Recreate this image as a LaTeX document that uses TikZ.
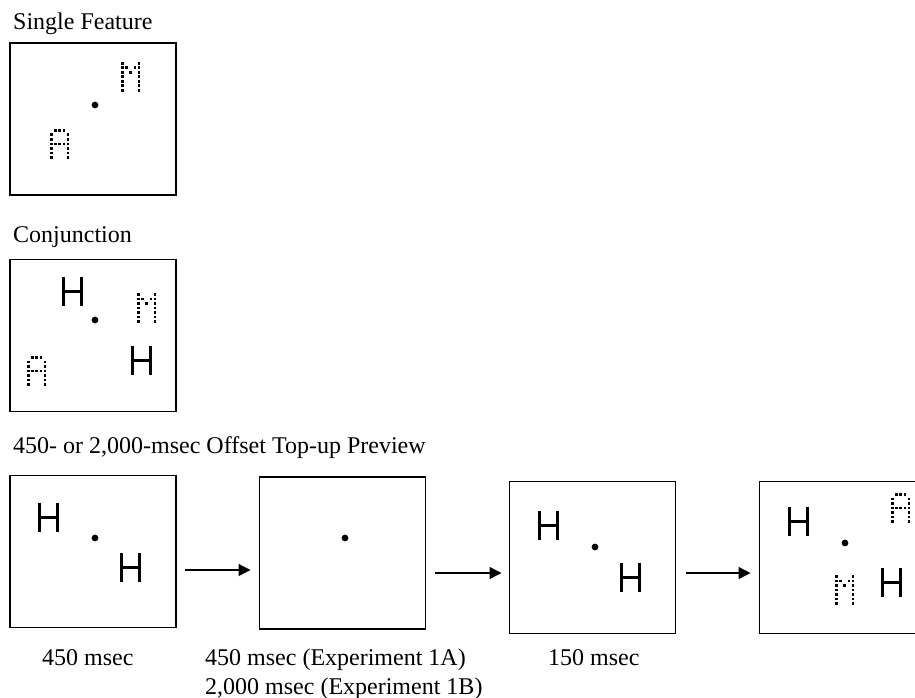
\documentclass[tikz,border=0pt]{standalone}
\usepackage{fontspec}
\setmainfont{Liberation Serif}
\usetikzlibrary{arrows.meta}
\tikzset{
  frame/.style={draw=black, line width=1.3pt, rectangle, minimum width=166pt, minimum height=152pt, inner sep=0pt, outer sep=0pt},
  lbl/.style={anchor=base west, inner sep=0pt, font=\fontsize{24}{29}\selectfont},
  hstroke/.style={line width=3pt, line cap=butt},
  flow/.style={line width=1.3pt, -{Triangle[length=12pt,width=12pt]}},
}
\newcommand\Hglyph[2]{%
  \begin{scope}[shift={(#1,#2)}]
    \draw[hstroke] (1.5,0) -- (1.5,29) (19.5,0) -- (19.5,29) (1.5,14.5) -- (19.5,14.5);
  \end{scope}}
\newcommand\dotset[3]{%
  \begin{scope}[shift={(#1,#2)}]
    \foreach \c/\r in {#3} \fill (\c*4.2,\r*4.5) rectangle ++(2.6,2.6);
  \end{scope}}
\newcommand\glyphA[2]{\dotset{#1}{#2}{1/0,2/0,3/0,0/1,4/1,0/2,4/2,0/3,1/3,2/3,3/3,4/3,0/4,4/4,0/5,4/5,0/6,4/6}}
\newcommand\glyphM[2]{\dotset{#1}{#2}{0/0,4/0,0/1,1/1,3/1,4/1,0/2,2/2,4/2,0/3,4/3,0/4,4/4,0/5,4/5,0/6,4/6}}
\begin{document}
\begin{tikzpicture}[x=1pt,y=-1pt]
\useasboundingbox (0,0) rectangle (915,698);
\clip (0,0) rectangle (915,698);

% titles
\node[lbl] (t1) at (13,30) {Single Feature};
\node[lbl] (t2) at (13,242) {Conjunction};
\node[lbl] (t3) at (13,453) {450- or 2,000-msec Offset Top-up Preview};

% frames
\node[frame] (b1) at (93,119) {};
\node[frame] (b2) at (93,335.5) {};
\node[frame] (b3) at (93,551.5) {};
\node[frame] (b4) at (342.5,553) {};
\node[frame] (b5) at (592.5,557.5) {};
\node[frame] (b6) at (842.5,557.5) {};

% fixation dots
\foreach \p in {(95,105),(95,320),(95,538),(345,538),(595,547),(845,543)}
  \fill \p circle[radius=3.4pt];

% box 1
\glyphM{121}{62}
\glyphA{50}{129}

% box 2
\Hglyph{62}{277}
\Hglyph{131}{346}
\glyphM{137}{293}
\glyphA{27}{356}

% box 3
\Hglyph{38}{503}
\Hglyph{120}{553}

% box 5
\Hglyph{538}{511}
\Hglyph{620}{563}

% box 6
\Hglyph{788}{507}
\Hglyph{881}{568}
\glyphA{891}{493}
\glyphM{835}{575}

% arrows
\draw[flow] ([xshift=9pt,yshift=-18.5pt]b3.east) -- ([xshift=-9pt,yshift=-17pt]b4.west);
\draw[flow] ([xshift=9pt,yshift=-20pt]b4.east) -- ([xshift=-8pt,yshift=-15.5pt]b5.west);
\draw[flow] ([xshift=10pt,yshift=-15.5pt]b5.east) -- ([xshift=-9pt,yshift=-15.5pt]b6.west);

% durations
\node[lbl] (d1) at (42,665) {450 msec};
\node[lbl] (d2) at (205,665) {450 msec (Experiment 1A)};
\node[lbl] (d3) at (205,694) {2,000 msec (Experiment 1B)};
\node[lbl] (d4) at (548,665) {150 msec};
\end{tikzpicture}
\end{document}
